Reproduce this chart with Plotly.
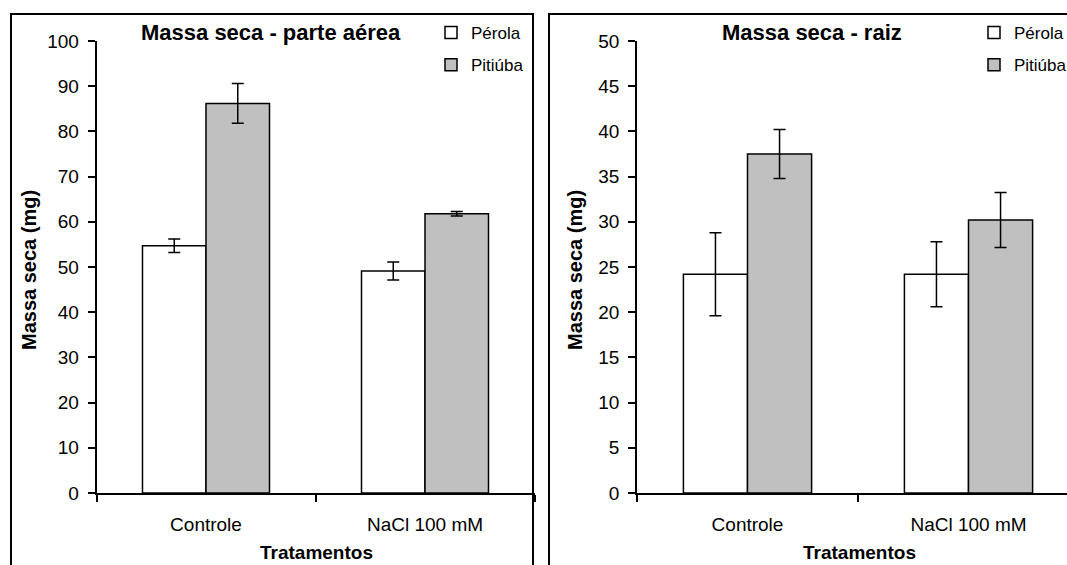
import plotly.graph_objects as go

categories = ["Controle", "NaCl 100 mM"]
series_names = ["Pérola", "Pitiúba"]

aerea_perola = [54.7, 49.1]
aerea_perola_err = [1.5, 2.0]
aerea_pitiuba = [86.2, 61.8]
aerea_pitiuba_err = [4.4, 0.5]

raiz_perola = [24.2, 24.2]
raiz_perola_err = [4.6, 3.6]
raiz_pitiuba = [37.5, 30.2]
raiz_pitiuba_err = [2.7, 3.05]

y_ticks_aerea = [0, 10, 20, 30, 40, 50, 60, 70, 80, 90, 100]
y_ticks_raiz = [0, 5, 10, 15, 20, 25, 30, 35, 40, 45, 50]

W, H = 1067, 565
FONT = "Arial, 'Liberation Sans', sans-serif"
fills = ["#FFFFFF", "#C0C0C0"]


def px(x):
    return x / W


def py(y):
    return (H - y) / H


fig = go.Figure()

panels = [
    ("x", "y", "legend", [aerea_perola, aerea_pitiuba], [aerea_perola_err, aerea_pitiuba_err]),
    ("x2", "y2", "legend2", [raiz_perola, raiz_pitiuba], [raiz_perola_err, raiz_pitiuba_err]),
]
for xa, ya, lg, vals, errs in panels:
    for i, name in enumerate(series_names):
        fig.add_trace(go.Bar(
            x=categories, y=vals[i], name=name,
            xaxis=xa, yaxis=ya, legend=lg, legendgroup=name,
            marker=dict(color=fills[i], line=dict(color="black", width=1.5)),
            error_y=dict(type="data", array=errs[i], visible=True,
                         color="black", thickness=1.5, width=6),
        ))

tick_font = dict(family=FONT, size=19, color="black")
common_y = dict(showline=True, linecolor="black", linewidth=1.5, ticks="outside",
                ticklen=7, tickwidth=1.5, tickcolor="black", showgrid=False,
                zeroline=False, tickfont=tick_font, domain=[py(493), py(41)],
                ticklabelstandoff=5)
common_x = dict(type="category", showline=True, linecolor="black", linewidth=1.5,
                ticks="outside", tickson="boundaries", ticklen=7, tickwidth=1.5,
                tickcolor="black", showgrid=False, tickfont=tick_font,
                ticklabelstandoff=13)

legend_common = dict(xanchor="left", yanchor="top",
                     font=dict(family=FONT, size=17, color="black"),
                     bgcolor="rgba(0,0,0,0)", tracegroupgap=7)

fig.update_layout(
    width=W, height=H,
    margin=dict(l=0, r=0, t=0, b=0, autoexpand=False),
    paper_bgcolor="white", plot_bgcolor="white",
    barmode="group", bargap=0.42, bargroupgap=0,
    font=dict(family=FONT, color="black"),
    xaxis=dict(common_x, domain=[px(96.5), px(534.5)], anchor="y", range=[-0.5, 1.5]),
    yaxis=dict(common_y, anchor="x", range=[0, 100], tickvals=y_ticks_aerea),
    xaxis2=dict(common_x, domain=[px(637), 1], anchor="y2",
                range=[-0.5, -0.5 + (W - 637) / 221.0]),
    yaxis2=dict(common_y, anchor="x2", range=[0, 50], tickvals=y_ticks_raiz),
    legend=dict(legend_common, x=px(431), y=py(15)),
    legend2=dict(legend_common, x=px(974), y=py(15)),
    showlegend=True,
)

# panel frames
fig.add_shape(type="rect", xref="paper", yref="paper", x0=px(11), x1=px(533),
              y0=-0.1, y1=py(14), line=dict(color="black", width=2), layer="below")
fig.add_shape(type="rect", xref="paper", yref="paper", x0=px(549), x1=1.1,
              y0=-0.1, y1=py(14), line=dict(color="black", width=2), layer="below")

ann = [
    dict(text="<b>Massa seca - parte aérea</b>", x=px(271), y=py(32), size=22),
    dict(text="<b>Massa seca - raiz</b>", x=px(812), y=py(32), size=22),
    dict(text="<b>Tratamentos</b>", x=px(316), y=py(552), size=19),
    dict(text="<b>Tratamentos</b>", x=px(859), y=py(552), size=19),
]
for a in ann:
    fig.add_annotation(text=a["text"], x=a["x"], y=a["y"], xref="paper", yref="paper",
                       showarrow=False, xanchor="center", yanchor="middle",
                       font=dict(family=FONT, size=a["size"], color="black"))
for xc in (29, 575):
    fig.add_annotation(text="<b>Massa seca (mg)</b>", x=px(xc), y=py(270),
                       xref="paper", yref="paper", showarrow=False, textangle=-90,
                       xanchor="center", yanchor="middle",
                       font=dict(family=FONT, size=20, color="black"))

fig.write_html(
    "out.html",
    config={"displayModeBar": False},
    post_script="document.body.style.margin='0';document.body.style.overflow='hidden';",
)
